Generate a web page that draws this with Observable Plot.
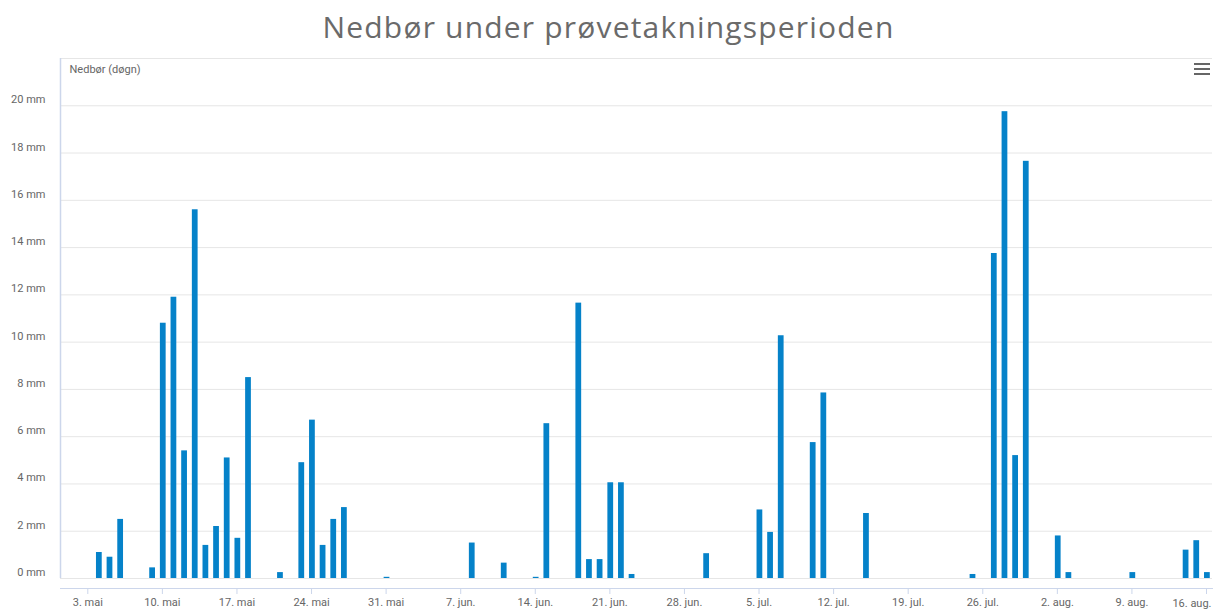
<!DOCTYPE html>
<html><head><meta charset="utf-8">
<script src="https://cdn.jsdelivr.net/npm/d3@7"></script>
<script src="https://cdn.jsdelivr.net/npm/@observablehq/plot@0.6"></script>
<style>
body{margin:0;background:#fff;}
#wrap{position:relative;width:1217px;height:611px;overflow:hidden;}
#title{position:absolute;left:0;top:9px;width:1217px;text-align:center;}
#title span{font-family:"Open Sans",sans-serif;font-weight:400;font-size:30px;line-height:36px;color:#6a6a6a;white-space:nowrap;}
#chart{position:absolute;left:0;top:50px;}
.burger{position:absolute;left:1194px;width:16px;height:2px;background:#666;}
</style></head>
<body>
<div id="wrap">
  <div id="title"><span id="tt">Nedbør under prøvetakningsperioden</span></div>
  <div id="chart"></div>
  <div class="burger" style="top:63px"></div>
  <div class="burger" style="top:68px"></div>
  <div class="burger" style="top:73px"></div>
</div>
<script>
// Daily precipitation (mm), 2021
const dates = ["2021-05-04","2021-05-05","2021-05-06","2021-05-09","2021-05-10","2021-05-11","2021-05-12","2021-05-13","2021-05-14","2021-05-15","2021-05-16","2021-05-17","2021-05-18","2021-05-21","2021-05-23","2021-05-24","2021-05-25","2021-05-26","2021-05-27","2021-05-31",
"2021-06-08","2021-06-11","2021-06-14","2021-06-15","2021-06-18","2021-06-19","2021-06-20","2021-06-21","2021-06-22","2021-06-23","2021-06-30",
"2021-07-05","2021-07-06","2021-07-07","2021-07-10","2021-07-11","2021-07-15","2021-07-25","2021-07-27","2021-07-28","2021-07-29","2021-07-30",
"2021-08-02","2021-08-03","2021-08-09","2021-08-14","2021-08-15","2021-08-16"];
const values = [1.1,0.9,2.5,0.45,10.8,11.9,5.4,15.6,1.4,2.2,5.1,1.7,8.5,0.25,4.9,6.7,1.4,2.5,3.0,0.05,
1.5,0.65,0.05,6.55,11.65,0.8,0.8,4.05,4.05,0.17,1.05,
2.9,1.95,10.27,5.75,7.85,2.75,0.17,13.75,19.75,5.2,17.65,
1.8,0.25,0.25,1.2,1.6,0.25];

const xTickDates = ["2021-05-03","2021-05-10","2021-05-17","2021-05-24","2021-05-31","2021-06-07","2021-06-14","2021-06-21","2021-06-28","2021-07-05","2021-07-12","2021-07-19","2021-07-26","2021-08-02","2021-08-09","2021-08-16"];
const xTickLabels = ["3. mai","10. mai","17. mai","24. mai","31. mai","7. jun.","14. jun.","21. jun.","28. jun.","5. jul.","12. jul.","19. jul.","26. jul.","2. aug.","9. aug.","16. aug."];
const xDomain = ["2021-04-30T10:30Z","2021-08-16T13:30Z"];
const yGrid = [0,2,4,6,8,10,12,14,16,18,20,22];
const yLabels = [0,2,4,6,8,10,12,14,16,18,20];
const yTitle = "Nedbør (døgn)";

const data = dates.map((d,i) => ({date: new Date(d + "T00:00Z"), value: values[i]}));
const ticks = xTickDates.map(d => new Date(d + "T00:00Z"));
const labelOf = new Map(ticks.map((t,i) => [+t, xTickLabels[i]]));
const lastTick = ticks[ticks.length - 1];
const dom = xDomain.map(d => new Date(d));
const HALF = 0.27 * 864e5, SHIFT = 2 * 36e5;

const chart = Plot.plot({
  width: 1217,
  height: 561,
  marginTop: 8,
  marginBottom: 23,
  marginLeft: 60,
  marginRight: 5,
  insetBottom: 10,
  style: {fontFamily: "Roboto, sans-serif", fontSize: "11px", color: "#666", background: "#fff"},
  x: {type: "utc", domain: dom},
  y: {domain: [0, 22]},
  marks: [
    Plot.gridY(yGrid, {stroke: "#e6e6e6", strokeOpacity: 1}),
    Plot.ruleX([dom[0]], {y1: 0, y2: 22, stroke: "#ccd6eb", strokeWidth: 1.5}),
    Plot.frame({anchor: "bottom", stroke: "#ccd6eb"}),
    Plot.rectY(data, {
      x1: d => new Date(+d.date + SHIFT - HALF),
      x2: d => new Date(+d.date + SHIFT + HALF),
      y: "value",
      fill: "#0582c9"
    }),
    Plot.axisY(yLabels, {tickSize: 0, tickPadding: 15, dy: -6, tickFormat: d => d + " mm", fill: "#666", label: null, fontSize: 11}),
    Plot.axisX(ticks, {tickSize: 6, tickPadding: 4, stroke: "#ccd6eb", fill: "#666", tickFormat: d => (+d === +lastTick ? "" : labelOf.get(+d)), label: null, fontSize: 11}),
    Plot.text([lastTick], {x: d => d, text: d => labelOf.get(+d), frameAnchor: "bottom", dy: 15, dx: 5, textAnchor: "end", lineAnchor: "middle", fill: "#666", fontSize: 11}),
    Plot.text([yTitle], {frameAnchor: "top-left", dx: 9, dy: 11, textAnchor: "start", lineAnchor: "middle", fill: "#666", fontSize: 11})
  ]
});
document.getElementById("chart").appendChild(chart);

// stretch title letter-spacing to the reference's width
const tt = document.getElementById("tt");
const target = 572;
const w = tt.getBoundingClientRect().width;
const n = tt.textContent.length;
tt.style.letterSpacing = ((target - w) / n) + "px";
</script>
</body></html>
